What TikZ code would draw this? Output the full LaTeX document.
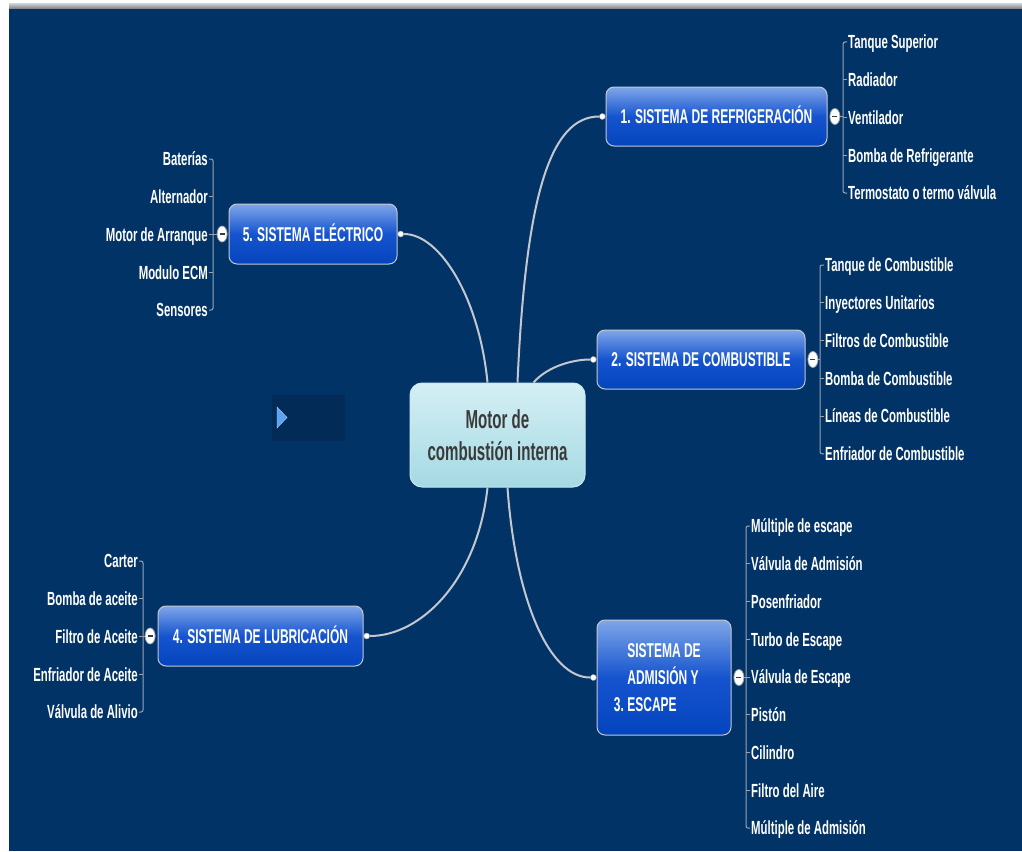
\documentclass[tikz,border=0pt]{standalone}
\usepackage{fontspec}
\setmainfont{Liberation Sans}[FakeStretch=0.6]
\newfontfamily\hubfont{Liberation Sans}[FakeStretch=0.58]
\usetikzlibrary{positioning,shapes.geometric,calc}
\definecolor{navy900}{HTML}{023366}
\definecolor{navy950}{HTML}{022B58}
\definecolor{blue300}{HTML}{7FA6E9}
\definecolor{blue500}{HTML}{1554CE}
\definecolor{blue700}{HTML}{0444BD}
\definecolor{cyan100}{HTML}{D4EFF4}
\definecolor{cyan300}{HTML}{A5DAE3}
\definecolor{grey200}{HTML}{C3C8D0}
\definecolor{grey400}{HTML}{9AA4B2}
\definecolor{grey600}{HTML}{7A7A7A}
\definecolor{ink700}{HTML}{3A3A3A}
\definecolor{tri400}{HTML}{5CA2F2}
\tikzset{
  hub/.style   ={draw=cyan300!60!white, line width=1pt, top color=cyan100,
                 bottom color=cyan300, rounded corners=12pt, align=center,
                 text=ink700, font=\hubfont\bfseries\fontsize{26}{32}\selectfont,
                 minimum width=175pt, minimum height=104pt},
  sysbox/.style={draw=grey200, line width=1pt, top color=blue300,
                 bottom color=blue700, middle color=blue500,
                 rounded corners=8pt, text=white, inner sep=0pt,
                 font=\bfseries\fontsize{20}{27}\selectfont},
  sys/.style   ={sysbox, text height=14.5pt, text depth=0pt},
  leaf/.style  ={anchor=west, text=white, inner sep=0pt,
                 text height=13.5pt, text depth=0pt,
                 font=\bfseries\fontsize{19}{22}\selectfont},
  leafl/.style ={leaf, anchor=east},
  ln/.style    ={draw=grey200, line width=2pt},
  brk/.style   ={draw=grey400, line width=1pt},
  knob/.style  ={ellipse, draw=grey400, fill=white, line width=0.8pt,
                 minimum width=10pt, minimum height=16pt, inner sep=0pt},
  dot/.style   ={circle, draw=grey400, fill=white, minimum size=6pt,
                 inner sep=0pt}
}
\newcommand{\minus}{{\color{ink700}\rule[-0.8pt]{5pt}{1.6pt}}}

\begin{document}
\begin{tikzpicture}[x=1pt,y=-1pt]
\useasboundingbox (0,0) rectangle (1022,851);
% frame
\fill[white] (0,0) rectangle (1022,851);
\fill[top color=grey200, bottom color=grey600] (9,4) rectangle (1022,9);
\fill[navy900] (9,9) rectangle (1022,851);
\fill[navy950] (272,395) rectangle (345,441);
\filldraw[fill=tri400, draw=tri400!50!white] (277,407) -- (287,417.5)
  -- (277,428) -- cycle;

% centre and the five systems
\node[hub] (hub) at (497.5,435) {Motor de\\combustión interna};
\node[sys, minimum width=221pt, minimum height=59pt] (s1) at (716.5,116.5)
  {1. SISTEMA DE REFRIGERACIÓN};
\node[sys, minimum width=208pt, minimum height=59pt] (s2) at (701,359.5)
  {2. SISTEMA DE COMBUSTIBLE};
\node[sysbox, minimum width=134pt, minimum height=115pt, align=left]
  (s3) at (664,677.5)
  {SISTEMA DE\\ADMISIÓN Y\\\llap{3.\ }ESCAPE};
\node[sys, minimum width=205pt, minimum height=60pt] (s4) at (260.5,636)
  {4. SISTEMA DE LUBRICACIÓN};
\node[sys, minimum width=168pt, minimum height=60pt] (s5) at (313,234)
  {5. SISTEMA ELÉCTRICO};

\node[dot, left=0pt of s1]  (d1) {};
\node[dot, left=0pt of s2]  (d2) {};
\node[dot, left=0pt of s3]  (d3) {};
\node[dot, right=0pt of s4] (d4) {};
\node[dot, right=0pt of s5] (d5) {};

\draw[ln] ([xshift=20pt]hub.north) .. controls +(8,-183) and +(-53,0) .. (d1);
\draw[ln] ([xshift=36pt]hub.north) .. controls +(15,-17) and +(-19,0) .. (d2);
\draw[ln] ([xshift=10pt]hub.south) .. controls +(8,113) and +(-44,0) .. (d3);
\draw[ln] ([xshift=-10pt]hub.south) .. controls +(-10,93) and +(54,0) .. (d4);
\draw[ln] ([xshift=-10pt]hub.north) .. controls +(-8,-83) and +(40,0) .. (d5);

\node[knob, right=2pt of s1] (k1) {\minus};
\node[knob, right=2pt of s2] (k2) {\minus};
\node[knob, right=2pt of s3] (k3) {\minus};
\node[knob, left=2pt of s4]  (k4) {\minus};
\node[knob, left=1pt of s5]  (k5) {\minus};

% leaves
\foreach \t [count=\i] in {Tanque Superior, Radiador, Ventilador,
    Bomba de Refrigerante, Termostato o termo válvula}
  \node[leaf] (a\i) at (848,42+37.75*\i-37.75) {\t};
\foreach \t [count=\i] in {Tanque de Combustible, Inyectores Unitarios,
    Filtros de Combustible, Bomba de Combustible, Líneas de Combustible,
    Enfriador de Combustible}
  \node[leaf] (b\i) at (825,265+37.75*\i-37.75) {\t};
\foreach \t [count=\i] in {Múltiple de escape, Válvula de Admisión,
    Posenfriador, Turbo de Escape, Válvula de Escape, Pistón, Cilindro,
    Filtro del Aire, Múltiple de Admisión}
  \node[leaf] (c\i) at (751,526+37.75*\i-37.75) {\t};
\foreach \t [count=\i] in {Carter, Bomba de aceite\ , Filtro de Aceite,
    Enfriador de Aceite, Válvula de Alivio}
  \node[leafl] (e\i) at (138,561+37.75*\i-37.75) {\t};
\foreach \t [count=\i] in {Baterías, Alternador, Motor de Arranque,
    Modulo ECM, Sensores}
  \node[leafl] (f\i) at (208,159+37.75*\i-37.75) {\t};

% brackets
\draw[brk, rounded corners=2pt] ([xshift=-1pt]a1.west) -- ++(-4,0)
  |- ([xshift=-1pt]a5.west);
\foreach \i in {2,3,4} \draw[brk] ([xshift=-1pt]a\i.west) -- ++(-4,0);
\draw[brk] (k1.east) -- ($(k1.east -| a1.west)+(-5,0)$);
\draw[brk, rounded corners=2pt] ([xshift=-1pt]b1.west) -- ++(-4,0)
  |- ([xshift=-1pt]b6.west);
\foreach \i in {2,...,5} \draw[brk] ([xshift=-1pt]b\i.west) -- ++(-4,0);
\draw[brk] (k2.east) -- ($(k2.east -| b1.west)+(-5,0)$);
\draw[brk, rounded corners=2pt] ([xshift=-1pt]c1.west) -- ++(-4,0)
  |- ([xshift=-1pt]c9.west);
\foreach \i in {2,...,8} \draw[brk] ([xshift=-1pt]c\i.west) -- ++(-4,0);
\draw[brk] (k3.east) -- ($(k3.east -| c1.west)+(-5,0)$);
\draw[brk, rounded corners=2pt] ([xshift=1pt]e1.east) -- ++(4,0)
  |- ([xshift=1pt]e5.east);
\foreach \i in {2,3,4} \draw[brk] ([xshift=1pt]e\i.east) -- ++(4,0);
\draw[brk] (k4.west) -- ($(k4.west -| e1.east)+(5,0)$);
\draw[brk, rounded corners=2pt] ([xshift=1pt]f1.east) -- ++(4,0)
  |- ([xshift=1pt]f5.east);
\foreach \i in {2,3,4} \draw[brk] ([xshift=1pt]f\i.east) -- ++(4,0);
\draw[brk] (k5.west) -- ($(k5.west -| f1.east)+(5,0)$);
\end{tikzpicture}
\end{document}
